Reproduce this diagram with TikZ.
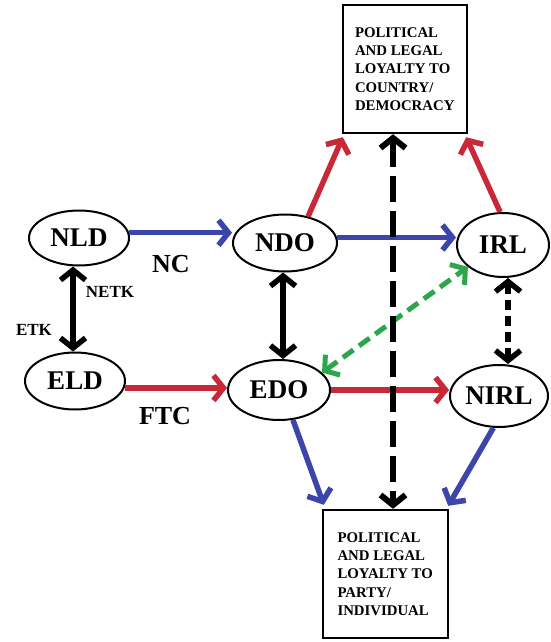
\documentclass[tikz,border=0pt]{standalone}
\usepackage{fontspec}
\setmainfont{Liberation Serif}
\usetikzlibrary{shapes.geometric,arrows.meta}
\definecolor{cred}{RGB}{200,40,55}
\definecolor{cblue}{RGB}{60,70,170}
\definecolor{cgreen}{RGB}{45,165,75}
\tikzset{
  ell/.style={ellipse, draw, line width=2pt, inner sep=0pt, font=\fontsize{27}{27}\selectfont\bfseries},
  loyal/.style={rectangle, draw, line width=2.4pt, inner sep=0pt, align=left, font=\fontsize{14.8}{18.3}\selectfont\bfseries},
  lbl/.style={font=\fontsize{26}{26}\selectfont\bfseries},
  slbl/.style={font=\fontsize{17}{17}\selectfont\bfseries},
  tip/.style={-{Straight Barb[length=10pt,width=25pt]}},
  dtip/.style={{Straight Barb[length=10pt,width=25pt]}-{Straight Barb[length=10pt,width=25pt]}},
  carrow/.style={line width=5.5pt, tip},
}
\begin{document}
\begin{tikzpicture}[x=1pt,y=-1pt]
\useasboundingbox (0,0) rectangle (550,642);
\fill[white] (0,0) rectangle (550,642);
% nodes
\node[ell, minimum width=100pt, minimum height=55pt] (NLD) at (79,238) {NLD};
\node[ell, minimum width=100pt, minimum height=57pt] (ELD) at (75,381) {ELD};
\node[ell, minimum width=104pt, minimum height=57pt] (NDO) at (285,243) {NDO};
\node[ell, minimum width=102pt, minimum height=60pt] (EDO) at (279,390) {EDO};
\node[ell, minimum width=92pt, minimum height=64pt] (IRL) at (503,245) {IRL};
\node[ell, minimum width=98pt, minimum height=62pt] (NIRL) at (499,396) {NIRL};
\node[loyal, minimum width=124pt, minimum height=128pt] (top) at (405,69)
  {\parbox{100pt}{POLITICAL\\AND LEGAL\\LOYALTY TO\\COUNTRY/\\DEMOCRACY}};
\node[loyal, minimum width=125pt, minimum height=128pt] (bot) at (385.5,574)
  {\parbox{96pt}{POLITICAL\\AND LEGAL\\LOYALTY TO\\PARTY/\\INDIVIDUAL}};
% labels
\node[lbl] (nc) at (171,264) {NC};
\node[lbl] (ftc) at (165,416) {FTC};
\node[slbl] (netk) at (110,292) {NETK};
\node[slbl] (etk) at (34,330) {ETK};
% connectors
\draw[carrow, cblue] (NLD.6) -- (NLD.6 -| NDO.west);
\draw[carrow, cred] (ELD.-8) -- (ELD.-8 -| EDO.west);
\draw[carrow, cblue] (NDO.6) -- (NDO.6 -| IRL.west);
\draw[carrow, cred] (EDO.east) -- (EDO.east -| NIRL.west);
\draw[carrow, cred] (NDO.49) -- ([xshift=1pt,yshift=-3pt]top.south west);
\draw[carrow, cred] (IRL.95) -- ([xshift=-2pt,yshift=-3pt]top.south east);
\draw[carrow, cblue] (EDO.-65) -- ([xshift=2pt,yshift=4pt]bot.north west);
\draw[carrow, cblue] (NIRL.-100) -- ([xshift=-1pt,yshift=3pt]bot.north east);
\draw[line width=5.5pt, dtip] ([xshift=-6pt]NLD.south) -- ([xshift=-2pt]ELD.north);
\draw[line width=5.5pt, dtip] ([xshift=-2pt]NDO.south) -- ([xshift=4pt]EDO.north);
\draw[line width=5.5pt, dtip, dash pattern=on 10pt off 6pt] ([xshift=5pt]IRL.south) -- ([xshift=9pt]NIRL.north);
\draw[line width=5pt, dtip, cgreen, dash pattern=on 13pt off 7pt] (EDO.22) -- (IRL.212);
\draw[line width=6pt, dtip, dash pattern=on 26pt off 9pt] ([xshift=-12pt]top.south) -- ([xshift=7.5pt]bot.north);
\end{tikzpicture}
\end{document}
